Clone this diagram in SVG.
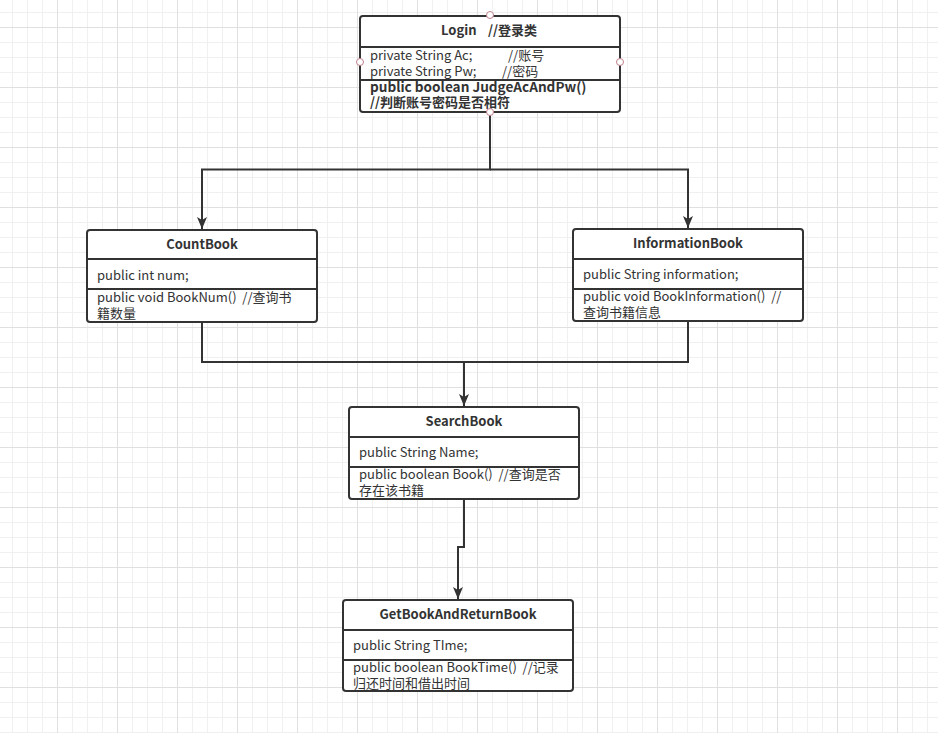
<svg xmlns="http://www.w3.org/2000/svg" width="938" height="733" viewBox="0 0 938 733">
<style>
.box{fill:#fff;stroke:#333;stroke-width:2}
.sep{stroke:#333;stroke-width:2}
.t{font-family:"Noto Sans CJK SC","Noto Sans",sans-serif;font-size:13px;fill:#333}
.b{font-weight:bold;font-size:13px}
.c{text-anchor:middle}
.conn{fill:none;stroke:#333;stroke-width:2}
.pt{fill:#fff;stroke:#c07f8c;stroke-width:1}
</style>
<defs>
<pattern id="grid" x="57" y="27" width="60" height="60" patternUnits="userSpaceOnUse">
<path d="M15.5 0V60M30.5 0V60M45.5 0V60M0 15.5H60M0 30.5H60M0 45.5H60" stroke="#f0f0f0" stroke-width="1" fill="none"/>
<path d="M0.5 0V60M0 0.5H60" stroke="#e0e0e0" stroke-width="1" fill="none"/>
</pattern>
<marker id="arr" viewBox="0 0 12 10" refX="12" refY="5" markerWidth="12" markerHeight="10" markerUnits="userSpaceOnUse" orient="auto">
<path d="M0,0 L12,5 L0,10 L3,5 Z" fill="#333"/>
</marker>
</defs>
<rect width="938" height="733" fill="#fff"/>
<rect width="938" height="733" fill="url(#grid)"/>

<g id="connectors">
<path class="conn" d="M490 112V169.5H202V229" marker-end="url(#arr)"/>
<path class="conn" d="M490 169.5H688V228" marker-end="url(#arr)"/>
<path class="conn" d="M202 322V362H464V406" marker-end="url(#arr)"/>
<path class="conn" d="M688 321V362H464"/>
<path class="conn" d="M464 499V547H458V599" marker-end="url(#arr)"/>
</g>

<g id="login">
<rect class="box" x="360" y="16" width="260" height="96" rx="3"/>
<line class="sep" x1="360" y1="47" x2="620" y2="47"/>
<line class="sep" x1="360" y1="80" x2="620" y2="80"/>
<text class="t b" x="441" y="35" xml:space="preserve">Login   <tspan x="488">//登录类</tspan></text>
<text class="t" x="370" y="60" xml:space="preserve">private String Ac;         <tspan x="508">//账号</tspan></text>
<text class="t" x="370" y="76" xml:space="preserve">private String Pw;       <tspan x="502">//密码</tspan></text>
<text class="t b" x="370" y="92" style="font-size:13.6px">public boolean JudgeAcAndPw()</text>
<text class="t b" x="370" y="107">//判断账号密码是否相符</text>
<circle class="pt" cx="490" cy="15" r="3.5"/>
<circle class="pt" cx="360" cy="62" r="3.5"/>
<circle class="pt" cx="620" cy="62" r="3.5"/>
<circle class="pt" cx="490" cy="112" r="3.5"/>
</g>

<g id="countbook">
<rect class="box" x="87" y="230" width="230" height="92" rx="3"/>
<line class="sep" x1="87" y1="259" x2="317" y2="259"/>
<line class="sep" x1="87" y1="289" x2="317" y2="289"/>
<text class="t b c" x="202" y="249">CountBook</text>
<text class="t" x="97" y="280">public int num;</text>
<text class="t" x="97" y="302" xml:space="preserve">public void BookNum()  //查询书</text>
<text class="t" x="97" y="318">籍数量</text>
</g>

<g id="informationbook">
<rect class="box" x="573" y="229" width="230" height="92" rx="3"/>
<line class="sep" x1="573" y1="259" x2="803" y2="259"/>
<line class="sep" x1="573" y1="289" x2="803" y2="289"/>
<text class="t b c" x="688" y="248">InformationBook</text>
<text class="t" x="583" y="279">public String information;</text>
<text class="t" x="583" y="301" xml:space="preserve">public void BookInformation()  //</text>
<text class="t" x="583" y="317">查询书籍信息</text>
</g>

<g id="searchbook">
<rect class="box" x="349" y="407" width="230" height="92" rx="3"/>
<line class="sep" x1="349" y1="437" x2="579" y2="437"/>
<line class="sep" x1="349" y1="467" x2="579" y2="467"/>
<text class="t b c" x="464" y="426">SearchBook</text>
<text class="t" x="359" y="457">public String Name;</text>
<text class="t" x="359" y="479" xml:space="preserve">public boolean Book()  //查询是否</text>
<text class="t" x="359" y="495">存在该书籍</text>
</g>

<g id="getbookandreturnbook">
<rect class="box" x="343" y="600" width="230" height="91" rx="3"/>
<line class="sep" x1="343" y1="630" x2="573" y2="630"/>
<line class="sep" x1="343" y1="660" x2="573" y2="660"/>
<text class="t b c" x="458" y="619">GetBookAndReturnBook</text>
<text class="t" x="353" y="650">public String TIme;</text>
<text class="t" x="353" y="672" xml:space="preserve">public boolean BookTime()  //记录</text>
<text class="t" x="353" y="688">归还时间和借出时间</text>
</g>
</svg>
